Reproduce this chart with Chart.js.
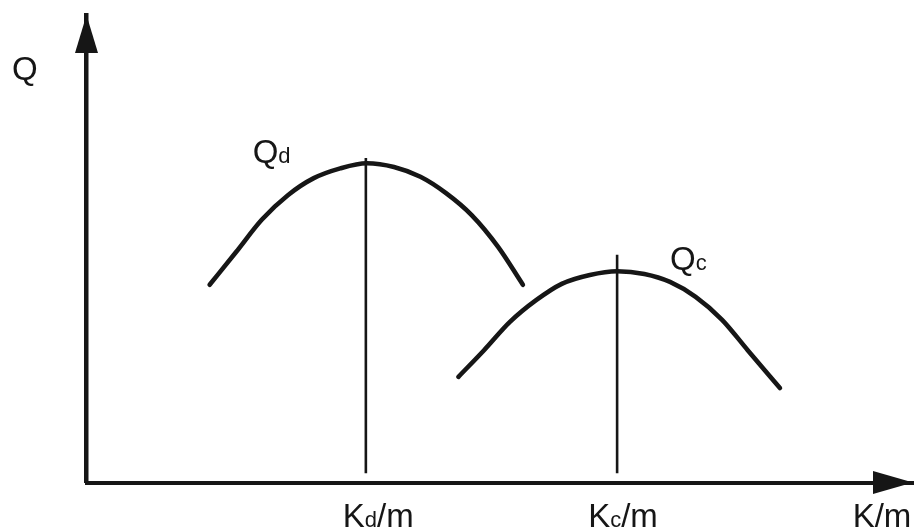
<!DOCTYPE html>
<html>
<head>
<meta charset="utf-8">
<script src="https://cdn.jsdelivr.net/npm/chart.js@4/dist/chart.umd.min.js"></script>
<style>
  html, body { margin: 0; padding: 0; background: #ffffff; }
  #wrap { width: 917px; height: 532px; }
</style>
</head>
<body>
<div id="wrap"><canvas id="c" width="917" height="532"></canvas></div>
<script>
// ---- Data (x = K/m, y = Q, arbitrary units) ----
const qdX = [14.9, 18.1, 21.2, 24.4, 27.5, 30.7, 33.9, 37.2, 40.4, 43.5, 46.6, 49.8, 52.8];
const qdY = [42.3, 49.3, 56.2, 61.5, 65.1, 67.2, 68.3, 67.5, 65.4, 61.9, 57.2, 50.4, 42.3];

const qcX = [45.0, 48.1, 51.2, 54.4, 57.5, 60.9, 64.2, 67.5, 70.6, 73.7, 76.9, 80.0, 83.9];
const qcY = [22.6, 28.3, 34.3, 39.0, 42.5, 44.4, 45.2, 44.6, 42.9, 39.7, 34.8, 28.3, 20.2];

// optimum markers (vertical lines)
const kdMarkX = [33.8, 33.8];
const kdMarkY = [2.0, 69.4];
const kcMarkX = [64.2, 64.2];
const kcMarkY = [2.0, 48.7];

// text labels: [main, subscript, tail]
const yAxisLabel = ["Q", "", ""];
const curveLabels = [["Q", "d", ""], ["Q", "c", ""]];
const tickLabels = [["K", "d", "/m"], ["K", "c", "/m"], ["K/m", "", ""]];

function pts(xs, ys) { return xs.map((x, i) => ({ x: x, y: ys[i] })); }

const INK = '#161616';
const MAIN_FONT = '33px "Liberation Sans", Arial, Helvetica, sans-serif';
const SUB_FONT = '22px "Liberation Sans", Arial, Helvetica, sans-serif';

function drawRich(ctx, parts, px, py) {
  let x = px;
  ctx.textAlign = 'left';
  ctx.textBaseline = 'alphabetic';
  const fonts = [MAIN_FONT, SUB_FONT, MAIN_FONT];
  parts.forEach((t, i) => {
    if (!t) return;
    ctx.font = fonts[i];
    ctx.fillText(t, x, py);
    x += ctx.measureText(t).width;
  });
}

const annotatePlugin = {
  id: 'annotate',
  afterDraw(chart) {
    const ctx = chart.ctx;
    const xs = chart.scales.x, ys = chart.scales.y;
    ctx.save();
    ctx.fillStyle = INK;
    // y arrowhead
    const yx = xs.getPixelForValue(0);
    const top = ys.getPixelForValue(100);
    ctx.beginPath();
    ctx.moveTo(yx, top);
    ctx.lineTo(yx - 11.5, top + 38);
    ctx.lineTo(yx + 11.5, top + 38);
    ctx.closePath();
    ctx.fill();
    // x arrowhead
    const xy = ys.getPixelForValue(0);
    const right = xs.getPixelForValue(100);
    ctx.beginPath();
    ctx.moveTo(right, xy);
    ctx.lineTo(right - 40, xy - 11.5);
    ctx.lineTo(right - 40, xy + 11.5);
    ctx.closePath();
    ctx.fill();

    // labels (positions in data units)
    drawRich(ctx, yAxisLabel, xs.getPixelForValue(-9.0), ys.getPixelForValue(86.1));
    drawRich(ctx, curveLabels[0], xs.getPixelForValue(20.1), ys.getPixelForValue(68.3));
    drawRich(ctx, curveLabels[1], xs.getPixelForValue(70.6), ys.getPixelForValue(45.5));
    const tickPos = [31.0, 60.7, 92.7];
    tickLabels.forEach((t, i) => drawRich(ctx, t, xs.getPixelForValue(tickPos[i]), ys.getPixelForValue(-9.5)));
    ctx.restore();
  }
};

const curveStyle = {
  showLine: true, pointRadius: 0, borderColor: INK, borderWidth: 4.6,
  cubicInterpolationMode: 'monotone', fill: false, borderCapStyle: 'round', borderJoinStyle: 'round'
};
const markStyle = {
  showLine: true, pointRadius: 0, borderColor: INK, borderWidth: 2.6, tension: 0, fill: false
};

new Chart(document.getElementById('c'), {
  type: 'scatter',
  data: {
    datasets: [
      Object.assign({ label: 'Qd', data: pts(qdX, qdY) }, curveStyle),
      Object.assign({ label: 'Qc', data: pts(qcX, qcY) }, curveStyle),
      Object.assign({ label: 'Kd/m', data: pts(kdMarkX, kdMarkY) }, markStyle),
      Object.assign({ label: 'Kc/m', data: pts(kcMarkX, kcMarkY) }, markStyle)
    ]
  },
  options: {
    responsive: false,
    animation: false,
    events: [],
    layout: { padding: { left: 86.5, right: 4, top: 15, bottom: 49.5 } },
    plugins: { legend: { display: false }, tooltip: { enabled: false } },
    scales: {
      x: {
        type: 'linear', min: 0, max: 100,
        grid: { display: false, drawTicks: false },
        ticks: { display: false },
        border: { display: true, width: 4, color: INK }
      },
      y: {
        type: 'linear', min: 0, max: 100,
        grid: { display: false, drawTicks: false },
        ticks: { display: false },
        border: { display: true, width: 4.5, color: INK }
      }
    }
  },
  plugins: [annotatePlugin]
});
</script>
</body>
</html>
